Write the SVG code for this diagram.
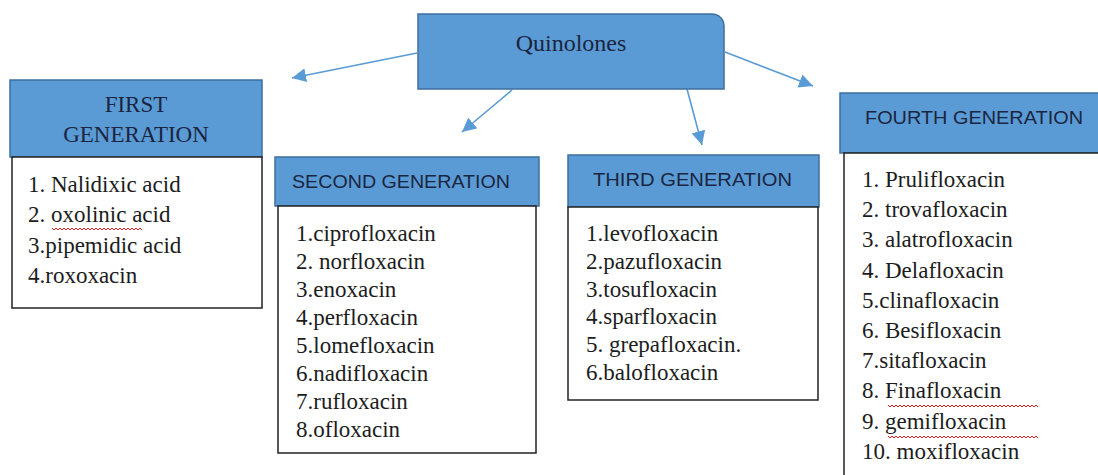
<svg xmlns="http://www.w3.org/2000/svg" width="1098" height="475" viewBox="0 0 1098 475" font-family="'Liberation Serif', Tinos, 'Times New Roman', Times, serif">
<defs>
<marker id="ah" markerUnits="userSpaceOnUse" markerWidth="16" markerHeight="14" refX="14" refY="7" orient="auto">
<path d="M0,0 L14,7 L0,14 Z" fill="#5b9bd5"/>
</marker>
<path id="sq68" d="M0,0 l2,2 l2,-2 l2,2 l2,-2 l2,2 l2,-2 l2,2 l2,-2 l2,2 l2,-2 l2,2 l2,-2 l2,2 l2,-2 l2,2 l2,-2 l2,2 l2,-2 l2,2 l2,-2 l2,2 l2,-2 l2,2 l2,-2 l2,2 l2,-2 l2,2 l2,-2 l2,2 l2,-2 l2,2 l2,-2 l2,2 l2,-2 l2,2 l2,-2 l2,2 l2,-2 l2,2 l2,-2 l2,2 l2,-2 l2,2 l2,-2 l2,2" fill="none" stroke="#e02020" stroke-width="1"/>
<path id="sq136" d="M0,0 l2,2 l2,-2 l2,2 l2,-2 l2,2 l2,-2 l2,2 l2,-2 l2,2 l2,-2 l2,2 l2,-2 l2,2 l2,-2 l2,2 l2,-2 l2,2 l2,-2 l2,2 l2,-2 l2,2 l2,-2 l2,2 l2,-2 l2,2 l2,-2 l2,2 l2,-2 l2,2 l2,-2 l2,2 l2,-2 l2,2 l2,-2 l2,2 l2,-2 l2,2 l2,-2 l2,2 l2,-2 l2,2 l2,-2 l2,2 l2,-2 l2,2 l2,-2 l2,2 l2,-2 l2,2 l2,-2 l2,2 l2,-2 l2,2 l2,-2 l2,2 l2,-2 l2,2 l2,-2 l2,2 l2,-2 l2,2 l2,-2 l2,2 l2,-2 l2,2 l2,-2 l2,2 l2,-2 l2,2 l2,-2 l2,2 l2,-2 l2,2 l2,-2 l2,2" fill="none" stroke="#e02020" stroke-width="1"/>
</defs>
<rect width="1098" height="475" fill="#ffffff"/>

<g id="connectors" stroke="#5b9bd5" stroke-width="1.6" fill="none" marker-end="url(#ah)">
<line x1="417" y1="53" x2="292" y2="78"/>
<line x1="512" y1="90" x2="462" y2="132"/>
<line x1="687" y1="89" x2="702" y2="145"/>
<line x1="725" y1="52" x2="813" y2="86"/>
</g>

<g id="quinolones">
<path d="M418,14 H712 A12,12 0 0 1 724,26 V89 H418 Z" fill="#5b9bd5" stroke="#3e6f9e" stroke-width="1.5"/>
<text x="571" y="51" font-size="24" text-anchor="middle" fill="#1a2540" font-family="'Liberation Serif', Tinos, 'Times New Roman', Times, serif">Quinolones</text>
</g>

<g id="first-generation">
<rect x="10" y="80" width="252" height="77" fill="#5b9bd5" stroke="#3e6f9e" stroke-width="1.5"/>
<g font-family="'Liberation Serif', Tinos, 'Times New Roman', Times, serif" font-size="23" fill="#1a2540" text-anchor="middle">
<text x="136" y="112">FIRST</text>
<text x="136" y="142">GENERATION</text>
</g>
<rect x="12" y="157" width="250" height="151" fill="#fff" stroke="#222" stroke-width="1.5"/>
<g font-family="'Liberation Serif', Tinos, 'Times New Roman', Times, serif" font-size="23" fill="#1c1c1c">
<text x="28" y="192">1. Nalidixic acid</text>
<text x="28" y="222">2. oxolinic acid</text>
<text x="28" y="253">3.pipemidic acid</text>
<text x="28" y="283">4.roxoxacin</text>
</g>
<use href="#sq68" x="52" y="228"/>
</g>

<g id="second-generation">
<rect x="275" y="157" width="264" height="49" fill="#5b9bd5" stroke="#3e6f9e" stroke-width="1.5"/>
<text x="292" y="188" font-size="18" fill="#1a2540" font-family="'Liberation Sans', Arial, sans-serif" textLength="218" lengthAdjust="spacingAndGlyphs">SECOND GENERATION</text>
<rect x="278" y="206" width="258" height="247" fill="#fff" stroke="#222" stroke-width="1.5"/>
<g font-family="'Liberation Serif', Tinos, 'Times New Roman', Times, serif" font-size="23" fill="#1c1c1c">
<text x="296" y="241">1.ciprofloxacin</text>
<text x="296" y="269">2. norfloxacin</text>
<text x="296" y="297">3.enoxacin</text>
<text x="296" y="325">4.perfloxacin</text>
<text x="296" y="353">5.lomefloxacin</text>
<text x="296" y="381">6.nadifloxacin</text>
<text x="296" y="409">7.rufloxacin</text>
<text x="296" y="437">8.ofloxacin</text>
</g>
</g>

<g id="third-generation">
<rect x="568" y="155" width="251" height="52" fill="#5b9bd5" stroke="#3e6f9e" stroke-width="1.5"/>
<text x="593" y="186" font-size="18" fill="#1a2540" font-family="'Liberation Sans', Arial, sans-serif" textLength="199" lengthAdjust="spacingAndGlyphs">THIRD GENERATION</text>
<rect x="568" y="207" width="250" height="193" fill="#fff" stroke="#222" stroke-width="1.5"/>
<g font-family="'Liberation Serif', Tinos, 'Times New Roman', Times, serif" font-size="23" fill="#1c1c1c">
<text x="586" y="241">1.levofloxacin</text>
<text x="586" y="269">2.pazufloxacin</text>
<text x="586" y="297">3.tosufloxacin</text>
<text x="586" y="324">4.sparfloxacin</text>
<text x="586" y="352">5. grepafloxacin.</text>
<text x="586" y="380">6.balofloxacin</text>
</g>
</g>

<g id="fourth-generation">
<rect x="840" y="93" width="270" height="60" fill="#5b9bd5" stroke="#3e6f9e" stroke-width="1.5"/>
<text x="865" y="124" font-size="18" fill="#1a2540" font-family="'Liberation Sans', Arial, sans-serif" textLength="218" lengthAdjust="spacingAndGlyphs">FOURTH GENERATION</text>
<rect x="844" y="153" width="270" height="340" fill="#fff" stroke="#222" stroke-width="1.5"/>
<g font-family="'Liberation Serif', Tinos, 'Times New Roman', Times, serif" font-size="23" fill="#1c1c1c">
<text x="862" y="187">1.  Prulifloxacin</text>
<text x="862" y="217">2. trovafloxacin</text>
<text x="862" y="247">3. alatrofloxacin</text>
<text x="862" y="278">4. Delafloxacin</text>
<text x="862" y="308">5.clinafloxacin</text>
<text x="862" y="338">6. Besifloxacin</text>
<text x="862" y="368">7.sitafloxacin</text>
<text x="862" y="398">8. Finafloxacin</text>
<text x="862" y="429">9. gemifloxacin</text>
<text x="862" y="459">10. moxifloxacin</text>
</g>
<use href="#sq136" x="888" y="405"/>
<use href="#sq136" x="888" y="436"/>
</g>
</svg>
